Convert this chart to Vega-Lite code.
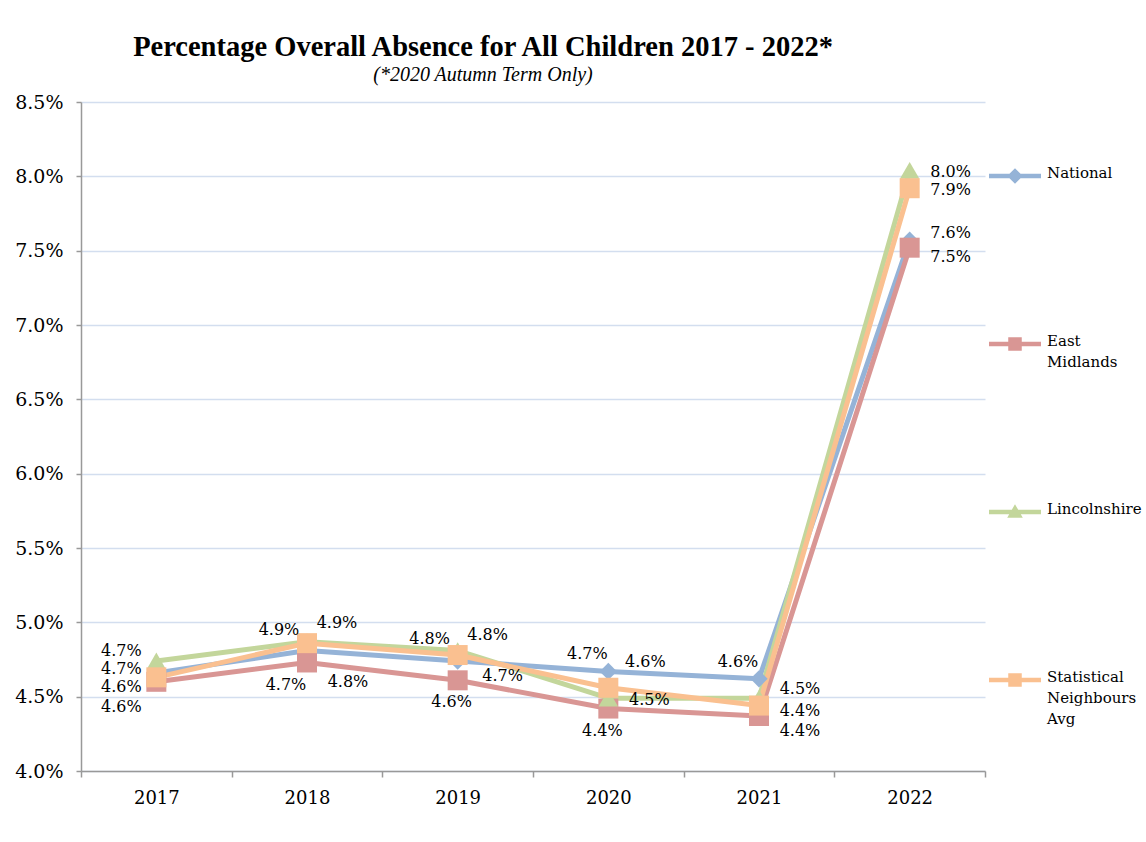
{
  "$schema": "https://vega.github.io/schema/vega-lite/v6.json",
  "width": 904,
  "height": 669,
  "padding": {"left": 14, "top": 32, "right": 0, "bottom": 0},
  "background": "white",
  "config": {"view": {"stroke": null}},
  "title": {
    "text": "Percentage Overall Absence for All Children 2017 - 2022*",
    "subtitle": "(*2020 Autumn Term Only)",
    "font": "Liberation Serif",
    "fontSize": 28.5,
    "fontWeight": "bold",
    "color": "black",
    "subtitleFont": "Liberation Serif",
    "subtitleFontStyle": "italic",
    "subtitleFontSize": 20,
    "subtitleColor": "black",
    "subtitlePadding": 4,
    "anchor": "middle",
    "dx": -50,
    "offset": 8
  },
  "data": {
    "values": [
      {"series": "National", "year": "2017", "value": 0.0466},
      {"series": "National", "year": "2018", "value": 0.0481},
      {"series": "National", "year": "2019", "value": 0.0474},
      {"series": "National", "year": "2020", "value": 0.0467},
      {"series": "National", "year": "2021", "value": 0.0462},
      {"series": "National", "year": "2022", "value": 0.0757},
      {"series": "East Midlands", "year": "2017", "value": 0.0460},
      {"series": "East Midlands", "year": "2018", "value": 0.0473},
      {"series": "East Midlands", "year": "2019", "value": 0.0461},
      {"series": "East Midlands", "year": "2020", "value": 0.0442},
      {"series": "East Midlands", "year": "2021", "value": 0.0437},
      {"series": "East Midlands", "year": "2022", "value": 0.0752},
      {"series": "Lincolnshire", "year": "2017", "value": 0.0474},
      {"series": "Lincolnshire", "year": "2018", "value": 0.0487},
      {"series": "Lincolnshire", "year": "2019", "value": 0.0481},
      {"series": "Lincolnshire", "year": "2020", "value": 0.0449},
      {"series": "Lincolnshire", "year": "2021", "value": 0.0449},
      {"series": "Lincolnshire", "year": "2022", "value": 0.0804},
      {"series": "Statistical Neighbours Avg", "year": "2017", "value": 0.0463},
      {"series": "Statistical Neighbours Avg", "year": "2018", "value": 0.0486},
      {"series": "Statistical Neighbours Avg", "year": "2019", "value": 0.0478},
      {"series": "Statistical Neighbours Avg", "year": "2020", "value": 0.0456},
      {"series": "Statistical Neighbours Avg", "year": "2021", "value": 0.0444},
      {"series": "Statistical Neighbours Avg", "year": "2022", "value": 0.0792}
    ]
  },
  "encoding": {
    "x": {
      "field": "year",
      "type": "ordinal",
      "bandPosition": 0.5,
      "scale": {"type": "band", "paddingInner": 0, "paddingOuter": 0},
      "axis": {
        "title": null,
        "labelAngle": 0,
        "tickBand": "extent",
        "tickSize": 6,
        "tickColor": "#999999",
        "domainColor": "#999999",
        "domainWidth": 1.5,
        "tickWidth": 1.5,
        "grid": false,
        "labelFont": "DejaVu Serif",
        "labelFontSize": 18,
        "labelColor": "black",
        "labelPadding": 12
      }
    },
    "y": {
      "field": "value",
      "type": "quantitative",
      "scale": {"domain": [0.04, 0.085], "nice": false, "zero": false},
      "axis": {
        "title": null,
        "values": [0.04, 0.045, 0.05, 0.055, 0.06, 0.065, 0.07, 0.075, 0.08, 0.085],
        "format": ".1%",
        "labelFont": "DejaVu Serif",
        "labelFontSize": 19,
        "labelColor": "black",
        "labelPadding": 13,
        "tickSize": 5,
        "tickColor": "#999999",
        "tickWidth": 1.5,
        "domainColor": "#999999",
        "domainWidth": 1.5,
        "gridColor": "#D3DEEF",
        "gridWidth": 1.5
      }
    }
  },
  "layer": [
    {
      "mark": {"type": "line", "strokeWidth": 5, "strokeJoin": "round", "strokeCap": "round"},
      "encoding": {
        "color": {
          "field": "series",
          "type": "nominal",
          "scale": {
            "domain": ["National", "East Midlands", "Lincolnshire", "Statistical Neighbours Avg"],
            "range": ["#95B3D7", "#D99694", "#C3D69B", "#FAC090"]
          },
          "legend": {
            "orient": "none",
            "legendX": 908,
            "legendY": 48,
            "title": null,
            "gridAlign": "all",
            "rowPadding": 95,
            "symbolSize": 2704,
            "labelFont": "DejaVu Serif",
            "labelFontSize": 15,
            "labelColor": "black",
            "labelBaseline": "top",
            "labelOffset": 6,
            "labelExpr": "datum.label == 'East Midlands' ? ['East', 'Midlands'] : datum.label == 'Statistical Neighbours Avg' ? ['Statistical', 'Neighbours', 'Avg'] : datum.label",
            "encode": {
              "symbols": {
                "update": {
                  "shape": {"signal": "datum.value == 'National' ? 'M-1,-0.09L1,-0.09L1,0.09L-1,0.09ZM-0.3,0L0,-0.3L0.3,0L0,0.3Z' : datum.value == 'Lincolnshire' ? 'M-1,-0.09L1,-0.09L1,0.09L-1,0.09ZM0,-0.3L0.3,0.22L-0.3,0.22Z' : 'M-1,-0.09L1,-0.09L1,0.09L-1,0.09ZM-0.26,-0.26L0.26,-0.26L0.26,0.26L-0.26,0.26Z'"},
                  "fill": {"signal": "scale('color', datum.value)"},
                  "stroke": {"value": "transparent"},
                  "strokeWidth": {"value": 0},
                  "opacity": {"value": 1}
                }
              },
              "labels": {
                "update": {
                  "dy": {"value": -10},
                  "lineHeight": {"value": 21}
                }
              }
            }
          }
        }
      }
    },
    {
      "transform": [{"filter": "datum.series == 'National'"}],
      "mark": {"type": "point", "shape": "diamond", "filled": true, "opacity": 1, "strokeWidth": 0, "size": 300},
      "encoding": {"color": {"field": "series", "type": "nominal", "legend": null}}
    },
    {
      "transform": [{"filter": "datum.series == 'East Midlands'"}],
      "mark": {"type": "point", "shape": "square", "filled": true, "opacity": 1, "strokeWidth": 0, "size": 400},
      "encoding": {"color": {"field": "series", "type": "nominal", "legend": null}}
    },
    {
      "transform": [{"filter": "datum.series == 'Lincolnshire'"}],
      "mark": {"type": "point", "shape": "triangle-up", "filled": true, "opacity": 1, "strokeWidth": 0, "size": 380},
      "encoding": {"color": {"field": "series", "type": "nominal", "legend": null}}
    },
    {
      "transform": [{"filter": "datum.series == 'Statistical Neighbours Avg'"}],
      "mark": {"type": "point", "shape": "square", "filled": true, "opacity": 1, "strokeWidth": 0, "size": 400},
      "encoding": {"color": {"field": "series", "type": "nominal", "legend": null}}
    },
    {
      "transform": [{"filter": "datum.series == 'National' && datum.year == '2017'"}],
      "mark": {"type": "text", "font": "DejaVu Serif", "fontSize": 16, "color": "black", "dx": -35, "dy": -4},
      "encoding": {"text": {"field": "value", "format": ".1%"}}
    },
    {
      "transform": [{"filter": "datum.series == 'East Midlands' && datum.year == '2017'"}],
      "mark": {"type": "text", "font": "DejaVu Serif", "fontSize": 16, "color": "black", "dx": -35, "dy": 25},
      "encoding": {"text": {"field": "value", "format": ".1%"}}
    },
    {
      "transform": [{"filter": "datum.series == 'Lincolnshire' && datum.year == '2017'"}],
      "mark": {"type": "text", "font": "DejaVu Serif", "fontSize": 16, "color": "black", "dx": -35, "dy": -10},
      "encoding": {"text": {"field": "value", "format": ".1%"}}
    },
    {
      "transform": [{"filter": "datum.series == 'Statistical Neighbours Avg' && datum.year == '2017'"}],
      "mark": {"type": "text", "font": "DejaVu Serif", "fontSize": 16, "color": "black", "dx": -35, "dy": 10},
      "encoding": {"text": {"field": "value", "format": ".1%"}}
    },
    {
      "transform": [{"filter": "(datum.series == 'Lincolnshire' && (datum.year == '2020' || datum.year == '2022')) || (datum.series == 'Statistical Neighbours Avg' && datum.year == '2022')"}],
      "mark": {"type": "text", "font": "DejaVu Serif", "fontSize": 16, "color": "black", "dx": 41, "dy": 2},
      "encoding": {"text": {"field": "value", "format": ".1%"}}
    },
    {
      "transform": [{"filter": "datum.series == 'National' && datum.year == '2022'"}],
      "mark": {"type": "text", "font": "DejaVu Serif", "fontSize": 16, "color": "black", "dx": 41, "dy": -7},
      "encoding": {"text": {"field": "value", "format": ".1%"}}
    },
    {
      "transform": [{"filter": "datum.series == 'East Midlands' && datum.year == '2022'"}],
      "mark": {"type": "text", "font": "DejaVu Serif", "fontSize": 16, "color": "black", "dx": 41, "dy": 9},
      "encoding": {"text": {"field": "value", "format": ".1%"}}
    },
    {
      "transform": [{"filter": "datum.series == 'Lincolnshire' && datum.year == '2021'"}],
      "mark": {"type": "text", "font": "DejaVu Serif", "fontSize": 16, "color": "black", "dx": 41, "dy": -9},
      "encoding": {"text": {"field": "value", "format": ".1%"}}
    },
    {
      "transform": [{"filter": "datum.series == 'Statistical Neighbours Avg' && datum.year == '2021'"}],
      "mark": {"type": "text", "font": "DejaVu Serif", "fontSize": 16, "color": "black", "dx": 41, "dy": 5},
      "encoding": {"text": {"field": "value", "format": ".1%"}}
    },
    {
      "transform": [{"filter": "datum.series == 'East Midlands' && datum.year == '2021'"}],
      "mark": {"type": "text", "font": "DejaVu Serif", "fontSize": 16, "color": "black", "dx": 41, "dy": 15},
      "encoding": {"text": {"field": "value", "format": ".1%"}}
    },
    {
      "transform": [{"filter": "datum.series == 'National' && datum.year == '2018'"}],
      "mark": {"type": "text", "font": "DejaVu Serif", "fontSize": 16, "color": "black", "dx": 41, "dy": 31},
      "encoding": {"text": {"field": "value", "format": ".1%"}}
    },
    {
      "transform": [{"filter": "datum.series == 'National' && datum.year == '2019'"}],
      "mark": {"type": "text", "font": "DejaVu Serif", "fontSize": 16, "color": "black", "dx": 45, "dy": 15},
      "encoding": {"text": {"field": "value", "format": ".1%"}}
    },
    {
      "transform": [{"filter": "datum.series == 'National' && (datum.year == '2020' || datum.year == '2021')"}],
      "mark": {"type": "text", "font": "DejaVu Serif", "fontSize": 16, "color": "black", "dx": -21, "dy": -17},
      "encoding": {"text": {"field": "value", "format": ".1%"}}
    },
    {
      "transform": [{"filter": "datum.series == 'East Midlands' && datum.year == '2018'"}],
      "mark": {"type": "text", "font": "DejaVu Serif", "fontSize": 16, "color": "black", "dx": -21, "dy": 23},
      "encoding": {"text": {"field": "value", "format": ".1%"}}
    },
    {
      "transform": [{"filter": "datum.series == 'East Midlands' && (datum.year == '2019' || datum.year == '2020')"}],
      "mark": {"type": "text", "font": "DejaVu Serif", "fontSize": 16, "color": "black", "dx": -6, "dy": 22},
      "encoding": {"text": {"field": "value", "format": ".1%"}}
    },
    {
      "transform": [{"filter": "datum.series == 'Lincolnshire' && (datum.year == '2018' || datum.year == '2019')"}],
      "mark": {"type": "text", "font": "DejaVu Serif", "fontSize": 16, "color": "black", "dx": -28, "dy": -12},
      "encoding": {"text": {"field": "value", "format": ".1%"}}
    },
    {
      "transform": [{"filter": "datum.series == 'Statistical Neighbours Avg' && (datum.year == '2018' || datum.year == '2019')"}],
      "mark": {"type": "text", "font": "DejaVu Serif", "fontSize": 16, "color": "black", "dx": 30, "dy": -20},
      "encoding": {"text": {"field": "value", "format": ".1%"}}
    },
    {
      "transform": [{"filter": "datum.series == 'Statistical Neighbours Avg' && datum.year == '2020'"}],
      "mark": {"type": "text", "font": "DejaVu Serif", "fontSize": 16, "color": "black", "dx": 37, "dy": -26},
      "encoding": {"text": {"field": "value", "format": ".1%"}}
    }
  ]
}
